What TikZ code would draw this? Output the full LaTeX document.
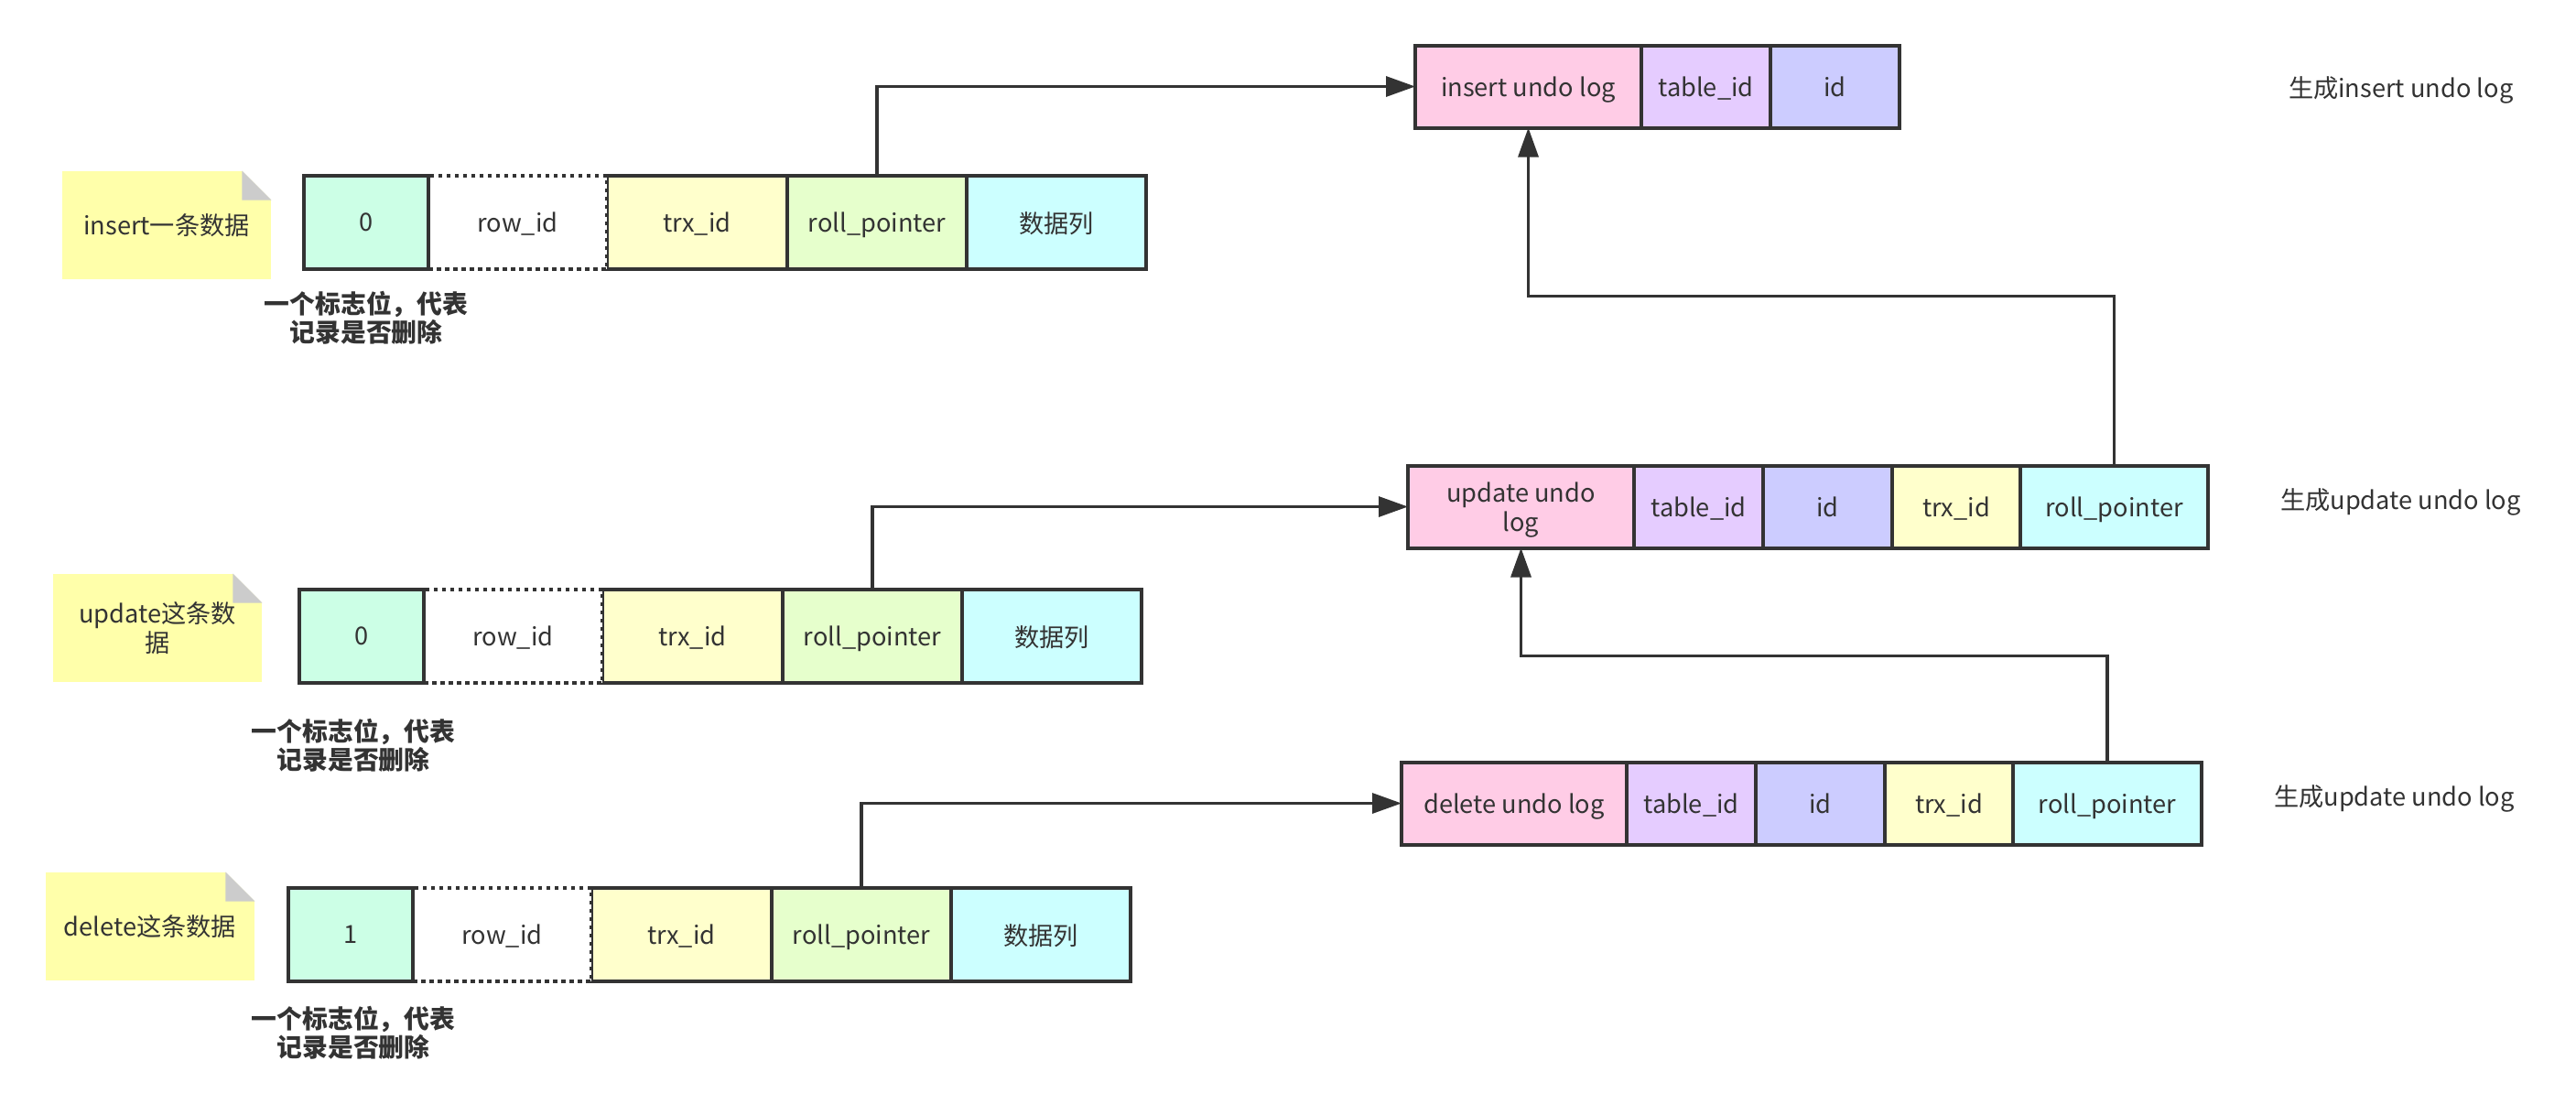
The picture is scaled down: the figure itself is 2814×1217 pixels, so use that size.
\documentclass[tikz,border=0pt]{standalone}
\usepackage{fontspec}
\setmainfont{Noto Sans CJK SC}
\usetikzlibrary{positioning,arrows.meta}

\definecolor{linec}{HTML}{333333}
\definecolor{flagc}{HTML}{CCFFE6}
\definecolor{trxc}{HTML}{FFFFCC}
\definecolor{rollc}{HTML}{E6FFCC}
\definecolor{datac}{HTML}{CCFFFF}
\definecolor{logc}{HTML}{FFCCE6}
\definecolor{tablec}{HTML}{E5CCFF}
\definecolor{idc}{HTML}{CCCCFF}
\definecolor{notec}{HTML}{FFFFAA}
\definecolor{foldc}{HTML}{CCCCCC}

\tikzset{
  cell/.style={draw=linec, line width=2pt, text=linec, inner sep=0pt, outer sep=0pt,
    minimum height=51pt, text depth=0pt, align=center},
  logcell/.style={cell, minimum height=45pt},
  rowid/.style={cell, dash pattern=on 2.25pt off 2.25pt, fill=white},
  note/.style={fill=notec, text=linec, minimum width=114pt, minimum height=59pt,
    inner sep=0pt, align=center},
  flaglabel/.style={text=linec, font=\fontsize{13.9}{15.5}\selectfont\bfseries, align=center},
  msg/.style={text=linec, anchor=west},
  link/.style={draw=linec, line width=1.6pt, -{Triangle[length=16pt,width=11pt]}},
}

\begin{document}
\begin{tikzpicture}[x=0.5pt, y=-0.5pt, font=\fontsize{13.6}{16}\selectfont]
  \useasboundingbox (0,0) rectangle (2814,1217);

  % records on the left
  \foreach \n/\x/\y/\flag/\lx/\ly in {1/332/243/0/400/347, 2/327/695/0/386/814, 3/315/1021/1/386/1128} {
    \node[cell, fill=trxc, minimum width=98.5pt, anchor=west] (r\n-trx) at (\x+331,\y) {trx\_id};
    \node[cell, fill=rollc, minimum width=98pt, right=0pt of r\n-trx] (r\n-roll) {roll\_pointer};
    \node[cell, fill=datac, minimum width=98pt, right=0pt of r\n-roll] (r\n-data) {数据列};
    \node[rowid, minimum width=97.5pt, left=0pt of r\n-trx] (r\n-row) {row\_id};
    \node[cell, fill=flagc, minimum width=68pt, left=0pt of r\n-row] (r\n-flag) {\flag};
    \node[flaglabel] (r\n-label) at (\lx,\ly) {一个标志位，代表\\记录是否删除};
  }

  % notes
  \node[note] (n1) at (182,246) {insert一条数据};
  \node[note] (n2) at (172,686) {update这条数\\据};
  \node[note] (n3) at (164,1012) {delete这条数据};
  \foreach \n in {1,2,3} {
    \fill[white] (n\n.north east) -- ++(-32,0) -- ++(32,32) -- cycle;
    \fill[foldc] (n\n.north east) ++(-32,0) -- ++(0,32) -- ++(32,0) -- cycle;
  }

  % undo logs
  \node[logcell, fill=logc, minimum width=123.5pt, anchor=west] (ins-log) at (1546,94.5) {insert undo log};
  \node[logcell, fill=tablec, minimum width=70.5pt, right=0pt of ins-log] (ins-table) {table\_id};
  \node[logcell, fill=idc, minimum width=70.5pt, right=0pt of ins-table] (ins-id) {id};
  \node[msg] (ins-msg) at (2493,98) {生成insert undo log};

  \node[logcell, fill=logc, minimum width=123.5pt, anchor=west] (upd-log) at (1538,553.5) {update undo\\log};
  \node[logcell, fill=tablec, minimum width=70.5pt, right=0pt of upd-log] (upd-table) {table\_id};
  \node[logcell, fill=idc, minimum width=70.5pt, right=0pt of upd-table] (upd-id) {id};
  \node[logcell, fill=trxc, minimum width=70pt, right=0pt of upd-id] (upd-trx) {trx\_id};
  \node[logcell, fill=datac, minimum width=102.5pt, right=0pt of upd-trx] (upd-roll) {roll\_pointer};
  \node[msg] (upd-msg) at (2484,548) {生成update undo log};

  \node[logcell, fill=logc, minimum width=123pt, anchor=west] (del-log) at (1531,877.5) {delete undo log};
  \node[logcell, fill=tablec, minimum width=70.5pt, right=0pt of del-log] (del-table) {table\_id};
  \node[logcell, fill=idc, minimum width=70.5pt, right=0pt of del-table] (del-id) {id};
  \node[logcell, fill=trxc, minimum width=70pt, right=0pt of del-id] (del-trx) {trx\_id};
  \node[logcell, fill=datac, minimum width=103pt, right=0pt of del-trx] (del-roll) {roll\_pointer};
  \node[msg] (del-msg) at (2477,872) {生成update undo log};

  % pointers
  \draw[link] (r1-roll.north) |- (ins-log.west);
  \draw[link] (r2-roll.north) |- (upd-log.west);
  \draw[link] (r3-roll.north) |- (del-log.west);
  \draw[link] (upd-roll.north) -- ++(0,-185) -| (ins-log.south);
  \draw[link] (del-roll.north) -- ++(0,-116) -| (upd-log.south);
\end{tikzpicture}
\end{document}
